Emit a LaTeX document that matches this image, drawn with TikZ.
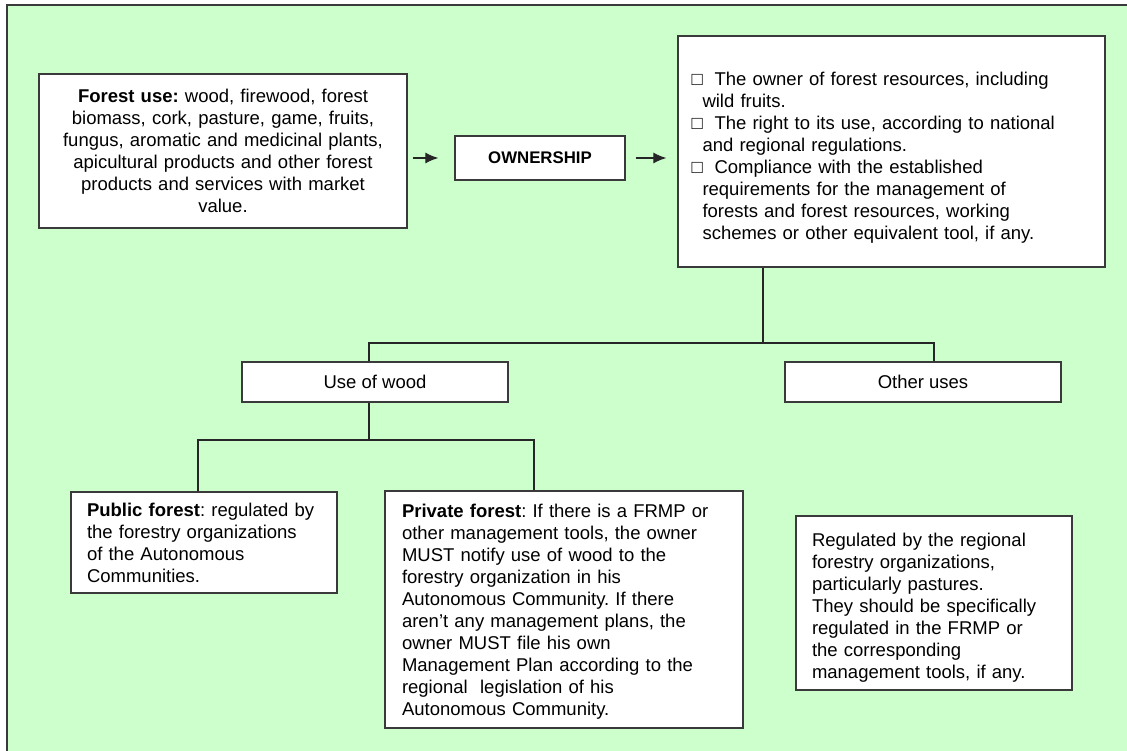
\documentclass[tikz,border=0pt]{standalone}
\usepackage{fontspec}
\setmainfont{Liberation Sans}
\usetikzlibrary{arrows.meta}
\frenchspacing
\definecolor{bggreen}{HTML}{CCFFCC}
\definecolor{frame}{HTML}{3A3A3A}
\tikzset{
  box/.style={draw=frame, line width=1.3pt, fill=white, inner ysep=0pt,
    font=\fontsize{18.5}{22}\selectfont, text=black},
  conn/.style={draw=black!85, line width=1.2pt},
  arr/.style={conn, -{Latex[length=13pt,width=11pt]}}
}
\begin{document}
\begin{tikzpicture}[x=1pt,y=-1pt]
\useasboundingbox (0,0) rectangle (1127,751);
\fill[white] (0,0) rectangle (1127,751);
\draw[draw=frame, line width=1.5pt, fill=bggreen] (7,5) rectangle (1140,765);

% boxes
\node[box, align=center, text width=350pt, inner xsep=9pt, minimum height=154pt] (forest) at (223,151)
  {\textbf{Forest use:} wood, firewood, forest\\
   biomass, cork, pasture, game, fruits,\\
   fungus, aromatic and medicinal plants,\\
   apicultural products and other forest\\
   products and services with market\\
   value.};

\node[box, align=center, minimum width=170pt, minimum height=44pt, inner xsep=0pt,
  font=\fontsize{16.8}{19}\selectfont\bfseries] (own) at (540,158) {OWNERSHIP};

\node[box, align=left, text width=400pt, inner xsep=13.5pt, minimum height=231pt] (rights) at (891.5,151.5)
  {\rule{0pt}{26pt}\makebox[23pt][l]{□}The owner of forest resources, including\\
   \hspace*{11pt}wild fruits.\\
   \makebox[23pt][l]{□}The right to its use, according to national\\
   \hspace*{11pt}and regional regulations.\\
   \makebox[23pt][l]{□}Compliance with the established\\
   \hspace*{11pt}requirements for the management of\\
   \hspace*{11pt}forests and forest resources, working\\
   \hspace*{11pt}schemes or other equivalent tool, if any.};

\node[box, align=center, minimum width=266pt, minimum height=40pt, inner xsep=0pt] (wood) at (375,382) {Use of wood};
\node[box, align=center, minimum width=276pt, minimum height=40pt, inner xsep=0pt] (other) at (923,382) {Other uses};

\node[box, align=left, text width=234pt, inner xsep=16pt, minimum height=101pt] (public) at (204,542.5)
  {\textbf{Public forest}: regulated by\\
   the forestry organizations\\
   of the Autonomous\\
   Communities.};

\node[box, align=left, text width=324pt, inner xsep=17pt, minimum height=237pt] (private) at (564,609.5)
  {\rule{0pt}{18pt}\textbf{Private forest}: If there is a FRMP or\\
   other management tools, the owner\\
   MUST notify use of wood to the\\
   forestry organization in his\\
   Autonomous Community. If there\\
   aren't any management plans, the\\
   owner MUST file his own\\
   Management Plan according to the\\
   regional\ \ legislation of his\\
   Autonomous Community.};

\node[box, align=left, text width=244pt, inner xsep=16pt, minimum height=174pt] (reg) at (934,603)
  {\rule{0pt}{22pt}Regulated by the regional\\
   forestry organizations,\\
   particularly pastures.\\
   They should be specifically\\
   regulated in the FRMP or\\
   the corresponding\\
   management tools, if any.};

% junctions
\coordinate (j1) at (763,343);
\coordinate (j2) at (369,440);

% arrows
\draw[arr, shorten <=5pt, shorten >=16pt] (forest.east |- own.west) -- (own.west);
\draw[arr, shorten <=10pt, shorten >=11pt] (own.east) -- (rights.west |- own.east);

% tree connectors
\draw[conn] (j1 |- rights.south) -- (j1);
\draw[conn] ([xshift=-6pt]wood.north) |- (j1) -| ([xshift=11pt]other.north);
\draw[conn] ([xshift=-6pt]wood.south) -- (j2);
\draw[conn] ([xshift=-6pt]public.north) |- (j2) -| ([xshift=-30pt]private.north);
\end{tikzpicture}
\end{document}
